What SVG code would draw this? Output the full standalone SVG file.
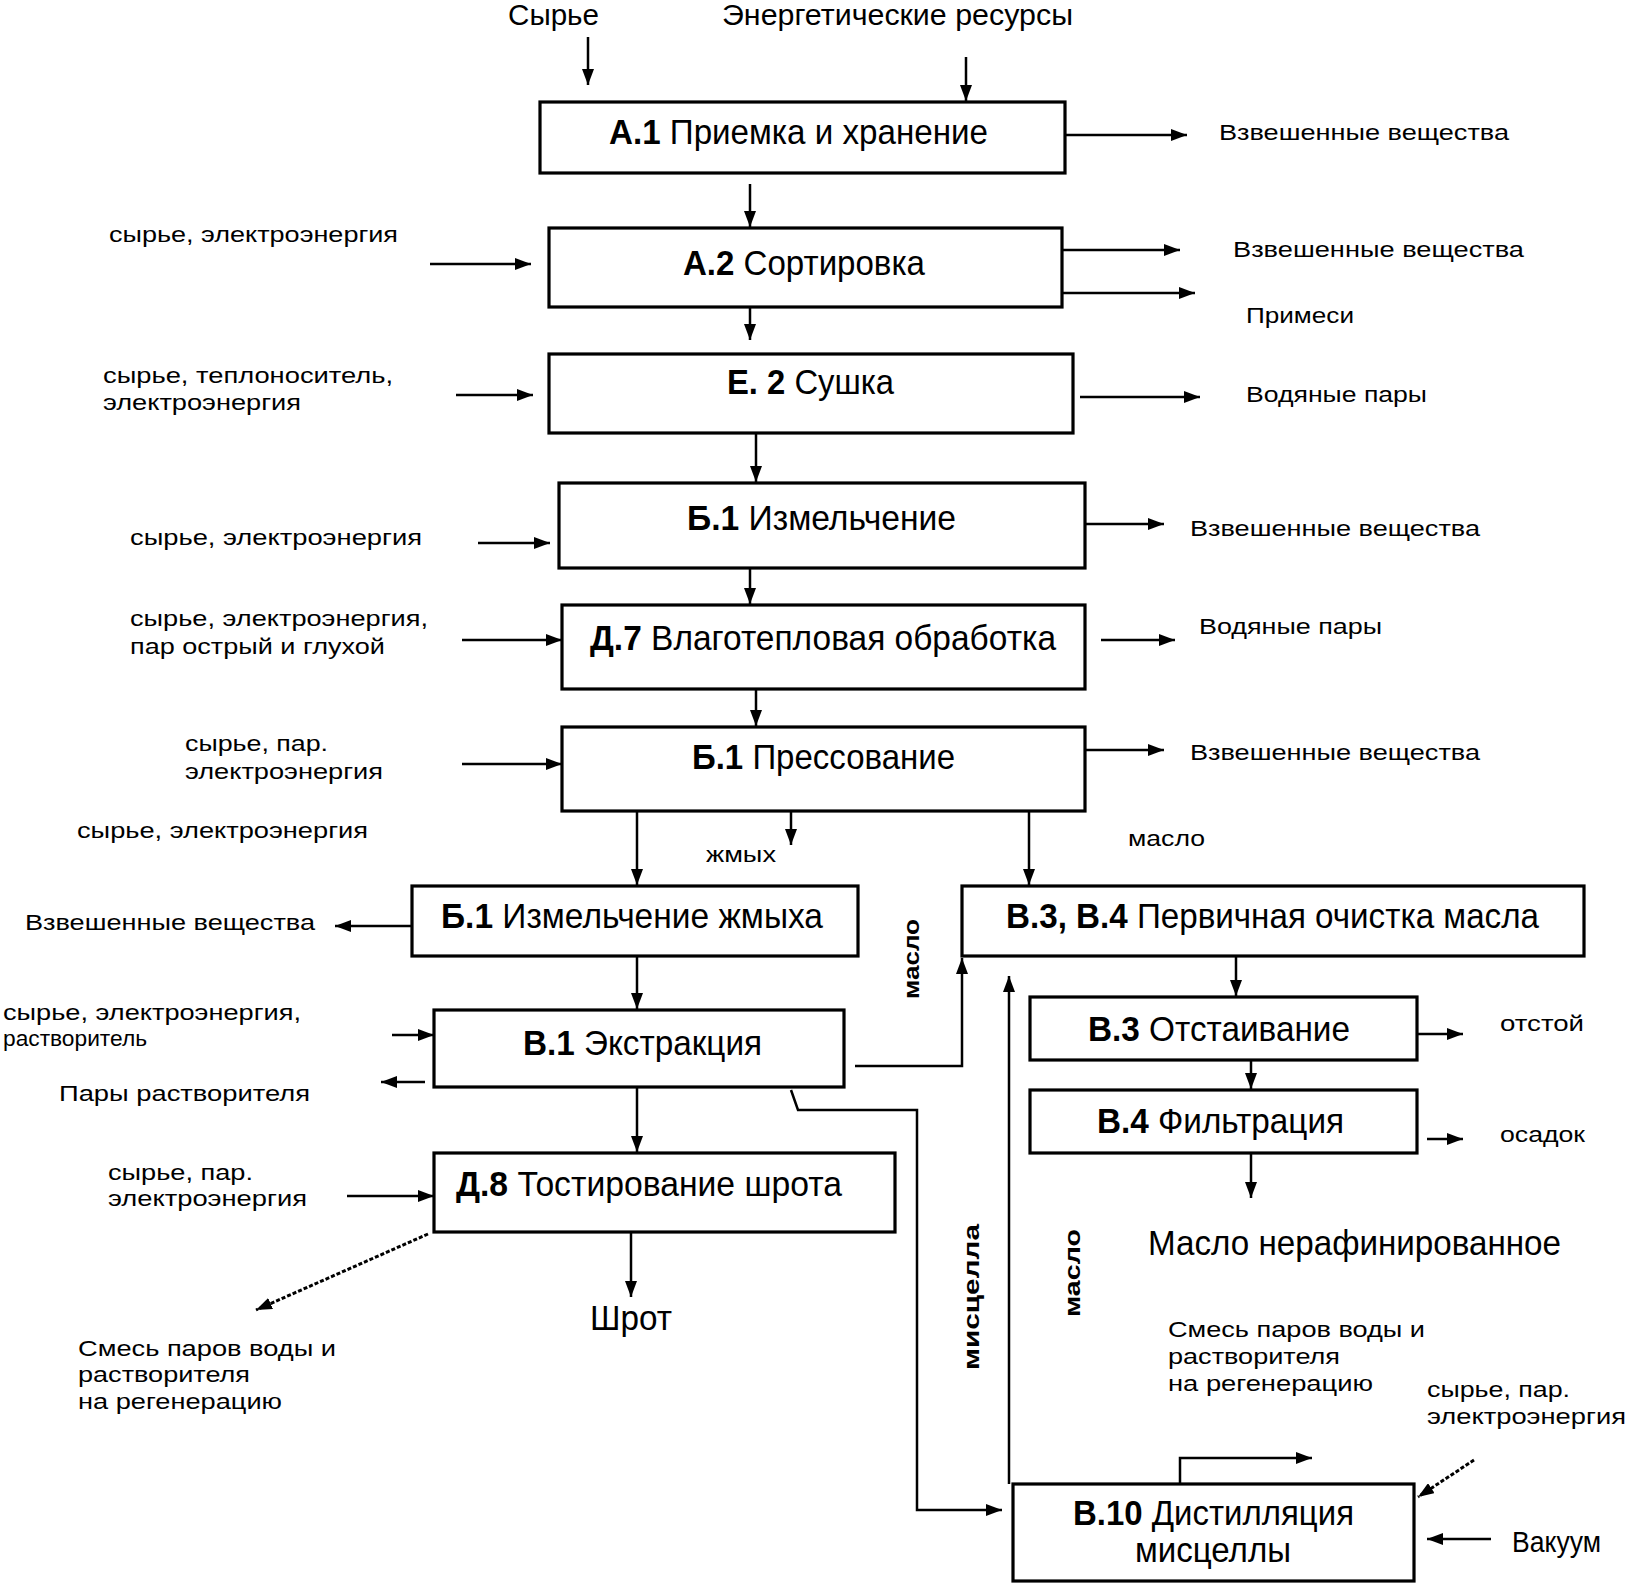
<svg xmlns="http://www.w3.org/2000/svg" width="1633" height="1587" viewBox="0 0 1633 1587">
<defs>
<style>
.box{fill:#fff;stroke:#000;stroke-width:3.2}
.ln{fill:none;stroke:#000;stroke-width:2.5}
.dash{stroke-dasharray:4 2;stroke-width:3}
.t{font-family:"Liberation Sans",Arial,sans-serif;font-size:35px;fill:#000}
.b{font-weight:bold}
.s{font-family:"Liberation Sans",Arial,sans-serif;font-size:22px;fill:#000}
.m{font-family:"Liberation Sans",Arial,sans-serif;font-size:30px;fill:#000}
.v{font-family:"Liberation Sans",Arial,sans-serif;font-size:22px;font-weight:bold;fill:#000}
</style>
<marker id="ah" viewBox="0 0 16 12" refX="16" refY="6" markerWidth="16" markerHeight="12" markerUnits="userSpaceOnUse" orient="auto">
<path d="M0,0 L16,6 L0,12 z" fill="#000"/>
</marker>
</defs>
<rect width="1633" height="1587" fill="#fff"/>

<g id="connectors">
<line class="ln" x1="588" y1="37" x2="588" y2="85" marker-end="url(#ah)"/>
<line class="ln" x1="966" y1="57" x2="966" y2="101" marker-end="url(#ah)"/>
<line class="ln" x1="1065" y1="135" x2="1187" y2="135" marker-end="url(#ah)"/>
<line class="ln" x1="750" y1="184" x2="750" y2="227" marker-end="url(#ah)"/>
<line class="ln" x1="430" y1="264" x2="531" y2="264" marker-end="url(#ah)"/>
<line class="ln" x1="1062" y1="250" x2="1180" y2="250" marker-end="url(#ah)"/>
<line class="ln" x1="1062" y1="293" x2="1195" y2="293" marker-end="url(#ah)"/>
<line class="ln" x1="750" y1="307" x2="750" y2="340" marker-end="url(#ah)"/>
<line class="ln" x1="456" y1="395" x2="533" y2="395" marker-end="url(#ah)"/>
<line class="ln" x1="1080" y1="397" x2="1200" y2="397" marker-end="url(#ah)"/>
<line class="ln" x1="756" y1="433" x2="756" y2="482" marker-end="url(#ah)"/>
<line class="ln" x1="478" y1="543" x2="550" y2="543" marker-end="url(#ah)"/>
<line class="ln" x1="1085" y1="524" x2="1164" y2="524" marker-end="url(#ah)"/>
<line class="ln" x1="750" y1="568" x2="750" y2="604" marker-end="url(#ah)"/>
<line class="ln" x1="462" y1="640" x2="562" y2="640" marker-end="url(#ah)"/>
<line class="ln" x1="1101" y1="640" x2="1175" y2="640" marker-end="url(#ah)"/>
<line class="ln" x1="756" y1="689" x2="756" y2="726" marker-end="url(#ah)"/>
<line class="ln" x1="462" y1="764" x2="562" y2="764" marker-end="url(#ah)"/>
<line class="ln" x1="1085" y1="750" x2="1164" y2="750" marker-end="url(#ah)"/>
<line class="ln" x1="637" y1="811" x2="637" y2="885" marker-end="url(#ah)"/>
<line class="ln" x1="791" y1="811" x2="791" y2="845" marker-end="url(#ah)"/>
<line class="ln" x1="1029" y1="811" x2="1029" y2="885" marker-end="url(#ah)"/>
<line class="ln" x1="412" y1="926" x2="335" y2="926" marker-end="url(#ah)"/>
<line class="ln" x1="637" y1="956" x2="637" y2="1009" marker-end="url(#ah)"/>
<line class="ln" x1="392" y1="1035" x2="434" y2="1035" stroke="#555" marker-end="url(#ah)"/>
<line class="ln" x1="425" y1="1082" x2="381" y2="1082" marker-end="url(#ah)"/>
<polyline class="ln" points="855,1066 962,1066 962,958" marker-end="url(#ah)"/>
<polyline class="ln" points="791,1090 798,1110 917,1110 917,1510 1002,1510" marker-end="url(#ah)"/>
<line class="ln" x1="1009" y1="1484" x2="1009" y2="976" marker-end="url(#ah)"/>
<line class="ln" x1="1236" y1="956" x2="1236" y2="996" marker-end="url(#ah)"/>
<line class="ln" x1="1417" y1="1034" x2="1463" y2="1034" marker-end="url(#ah)"/>
<line class="ln" x1="1251" y1="1060" x2="1251" y2="1089" marker-end="url(#ah)"/>
<line class="ln" x1="1427" y1="1139" x2="1463" y2="1139" marker-end="url(#ah)"/>
<line class="ln" x1="1251" y1="1153" x2="1251" y2="1198" marker-end="url(#ah)"/>
<line class="ln" x1="637" y1="1087" x2="637" y2="1152" marker-end="url(#ah)"/>
<line class="ln" x1="347" y1="1196" x2="434" y2="1196" marker-end="url(#ah)"/>
<line class="ln" x1="631" y1="1232" x2="631" y2="1297" marker-end="url(#ah)"/>
<line class="ln dash" x1="428" y1="1234" x2="256" y2="1310" marker-end="url(#ah)"/>
<polyline class="ln" points="1180,1484 1180,1458 1312,1458" marker-end="url(#ah)"/>
<line class="ln dash" x1="1474" y1="1460" x2="1418" y2="1497" marker-end="url(#ah)"/>
<line class="ln" x1="1491" y1="1539" x2="1427" y2="1539" marker-end="url(#ah)"/>
</g>

<g id="A1"><rect class="box" x="540" y="102" width="525" height="71"/>
<text class="t" x="609" y="144" textLength="379" lengthAdjust="spacingAndGlyphs"><tspan class="b">А.1</tspan> Приемка и хранение</text></g>
<g id="A2"><rect class="box" x="549" y="228" width="513" height="79"/>
<text class="t" x="683" y="275" textLength="242" lengthAdjust="spacingAndGlyphs"><tspan class="b">А.2</tspan> Сортировка</text></g>
<g id="E2"><rect class="box" x="549" y="354" width="524" height="79"/>
<text class="t" x="727" y="394" textLength="167" lengthAdjust="spacingAndGlyphs"><tspan class="b">Е. 2</tspan> Сушка</text></g>
<g id="B1"><rect class="box" x="559" y="483" width="526" height="85"/>
<text class="t" x="687" y="530" textLength="269" lengthAdjust="spacingAndGlyphs"><tspan class="b">Б.1</tspan> Измельчение</text></g>
<g id="D7"><rect class="box" x="562" y="605" width="523" height="84"/>
<text class="t" x="590" y="650" textLength="466" lengthAdjust="spacingAndGlyphs"><tspan class="b">Д.7</tspan> Влаготепловая обработка</text></g>
<g id="B1P"><rect class="box" x="562" y="727" width="523" height="84"/>
<text class="t" x="692" y="769" textLength="263" lengthAdjust="spacingAndGlyphs"><tspan class="b">Б.1</tspan> Прессование</text></g>
<g id="B1Z"><rect class="box" x="412" y="886" width="446" height="70"/>
<text class="t" x="441" y="928" textLength="382" lengthAdjust="spacingAndGlyphs"><tspan class="b">Б.1</tspan> Измельчение жмыха</text></g>
<g id="V34"><rect class="box" x="962" y="886" width="622" height="70"/>
<text class="t" x="1006" y="928" textLength="533" lengthAdjust="spacingAndGlyphs"><tspan class="b">В.3, В.4</tspan> Первичная очистка масла</text></g>
<g id="V1"><rect class="box" x="434" y="1010" width="410" height="77"/>
<text class="t" x="523" y="1055" textLength="239" lengthAdjust="spacingAndGlyphs"><tspan class="b">В.1</tspan> Экстракция</text></g>
<g id="V3"><rect class="box" x="1030" y="997" width="387" height="63"/>
<text class="t" x="1088" y="1041" textLength="262" lengthAdjust="spacingAndGlyphs"><tspan class="b">В.3</tspan> Отстаивание</text></g>
<g id="V4"><rect class="box" x="1030" y="1090" width="387" height="63"/>
<text class="t" x="1097" y="1133" textLength="247" lengthAdjust="spacingAndGlyphs"><tspan class="b">В.4</tspan> Фильтрация</text></g>
<g id="D8"><rect class="box" x="434" y="1153" width="461" height="79"/>
<text class="t" x="456" y="1196" textLength="386" lengthAdjust="spacingAndGlyphs"><tspan class="b">Д.8</tspan> Тостирование шрота</text></g>
<g id="V10"><rect class="box" x="1013" y="1484" width="401" height="97"/>
<text class="t" x="1073" y="1525" textLength="281" lengthAdjust="spacingAndGlyphs"><tspan class="b">В.10</tspan> Дистилляция</text>
<text class="t" x="1135" y="1562" textLength="156" lengthAdjust="spacingAndGlyphs">мисцеллы</text></g>

<g id="labels">
<text class="m" x="508" y="25" textLength="91" lengthAdjust="spacingAndGlyphs">Сырье</text>
<text class="m" x="722" y="25" textLength="351" lengthAdjust="spacingAndGlyphs">Энергетические ресурсы</text>
<text class="s" x="1219" y="140" textLength="290" lengthAdjust="spacingAndGlyphs">Взвешенные вещества</text>
<text class="s" x="109" y="242" textLength="289" lengthAdjust="spacingAndGlyphs">сырье, электроэнергия</text>
<text class="s" x="1233" y="257" textLength="291" lengthAdjust="spacingAndGlyphs">Взвешенные вещества</text>
<text class="s" x="1246" y="323" textLength="108" lengthAdjust="spacingAndGlyphs">Примеси</text>
<text class="s" x="103" y="383" textLength="290" lengthAdjust="spacingAndGlyphs">сырье, теплоноситель,</text>
<text class="s" x="103" y="410" textLength="198" lengthAdjust="spacingAndGlyphs">электроэнергия</text>
<text class="s" x="1246" y="402" textLength="181" lengthAdjust="spacingAndGlyphs">Водяные пары</text>
<text class="s" x="130" y="545" textLength="292" lengthAdjust="spacingAndGlyphs">сырье, электроэнергия</text>
<text class="s" x="1190" y="536" textLength="290" lengthAdjust="spacingAndGlyphs">Взвешенные вещества</text>
<text class="s" x="130" y="626" textLength="298" lengthAdjust="spacingAndGlyphs">сырье, электроэнергия,</text>
<text class="s" x="130" y="654" textLength="255" lengthAdjust="spacingAndGlyphs">пар острый и глухой</text>
<text class="s" x="1199" y="634" textLength="183" lengthAdjust="spacingAndGlyphs">Водяные пары</text>
<text class="s" x="185" y="751" textLength="143" lengthAdjust="spacingAndGlyphs">сырье, пар.</text>
<text class="s" x="185" y="779" textLength="198" lengthAdjust="spacingAndGlyphs">электроэнергия</text>
<text class="s" x="1190" y="760" textLength="290" lengthAdjust="spacingAndGlyphs">Взвешенные вещества</text>
<text class="s" x="77" y="838" textLength="291" lengthAdjust="spacingAndGlyphs">сырье, электроэнергия</text>
<text class="s" x="706" y="862" textLength="70" lengthAdjust="spacingAndGlyphs">жмых</text>
<text class="s" x="1128" y="846" textLength="77" lengthAdjust="spacingAndGlyphs">масло</text>
<text class="s" x="25" y="930" textLength="290" lengthAdjust="spacingAndGlyphs">Взвешенные вещества</text>
<text class="s" x="3" y="1020" textLength="298" lengthAdjust="spacingAndGlyphs">сырье, электроэнергия,</text>
<text class="s" x="3" y="1046" textLength="144" lengthAdjust="spacingAndGlyphs">растворитель</text>
<text class="s" x="59" y="1101" textLength="251" lengthAdjust="spacingAndGlyphs">Пары растворителя</text>
<text class="s" x="1500" y="1031" textLength="84" lengthAdjust="spacingAndGlyphs">отстой</text>
<text class="s" x="1500" y="1142" textLength="85" lengthAdjust="spacingAndGlyphs">осадок</text>
<text class="t" x="1148" y="1255" textLength="413" lengthAdjust="spacingAndGlyphs">Масло нерафинированное</text>
<text class="s" x="108" y="1180" textLength="145" lengthAdjust="spacingAndGlyphs">сырье, пар.</text>
<text class="s" x="108" y="1206" textLength="199" lengthAdjust="spacingAndGlyphs">электроэнергия</text>
<text class="t" x="590" y="1330" textLength="82" lengthAdjust="spacingAndGlyphs">Шрот</text>
<text class="s" x="78" y="1356" textLength="258" lengthAdjust="spacingAndGlyphs">Смесь паров воды и</text>
<text class="s" x="78" y="1382" textLength="172" lengthAdjust="spacingAndGlyphs">растворителя</text>
<text class="s" x="78" y="1409" textLength="204" lengthAdjust="spacingAndGlyphs">на регенерацию</text>
<text class="s" x="1168" y="1337" textLength="257" lengthAdjust="spacingAndGlyphs">Смесь паров воды и</text>
<text class="s" x="1168" y="1364" textLength="172" lengthAdjust="spacingAndGlyphs">растворителя</text>
<text class="s" x="1168" y="1391" textLength="205" lengthAdjust="spacingAndGlyphs">на регенерацию</text>
<text class="s" x="1427" y="1397" textLength="143" lengthAdjust="spacingAndGlyphs">сырье, пар.</text>
<text class="s" x="1427" y="1424" textLength="199" lengthAdjust="spacingAndGlyphs">электроэнергия</text>
<text class="m" x="1512" y="1552" font-size="26" textLength="89" lengthAdjust="spacingAndGlyphs">Вакуум</text>
<text class="v" transform="translate(919,959) rotate(-90)" text-anchor="middle" textLength="80" lengthAdjust="spacingAndGlyphs">масло</text>
<text class="v" transform="translate(979,1297) rotate(-90)" text-anchor="middle" textLength="146" lengthAdjust="spacingAndGlyphs">мисцелла</text>
<text class="v" transform="translate(1080,1273) rotate(-90)" text-anchor="middle" textLength="88" lengthAdjust="spacingAndGlyphs">масло</text>
</g>
</svg>
